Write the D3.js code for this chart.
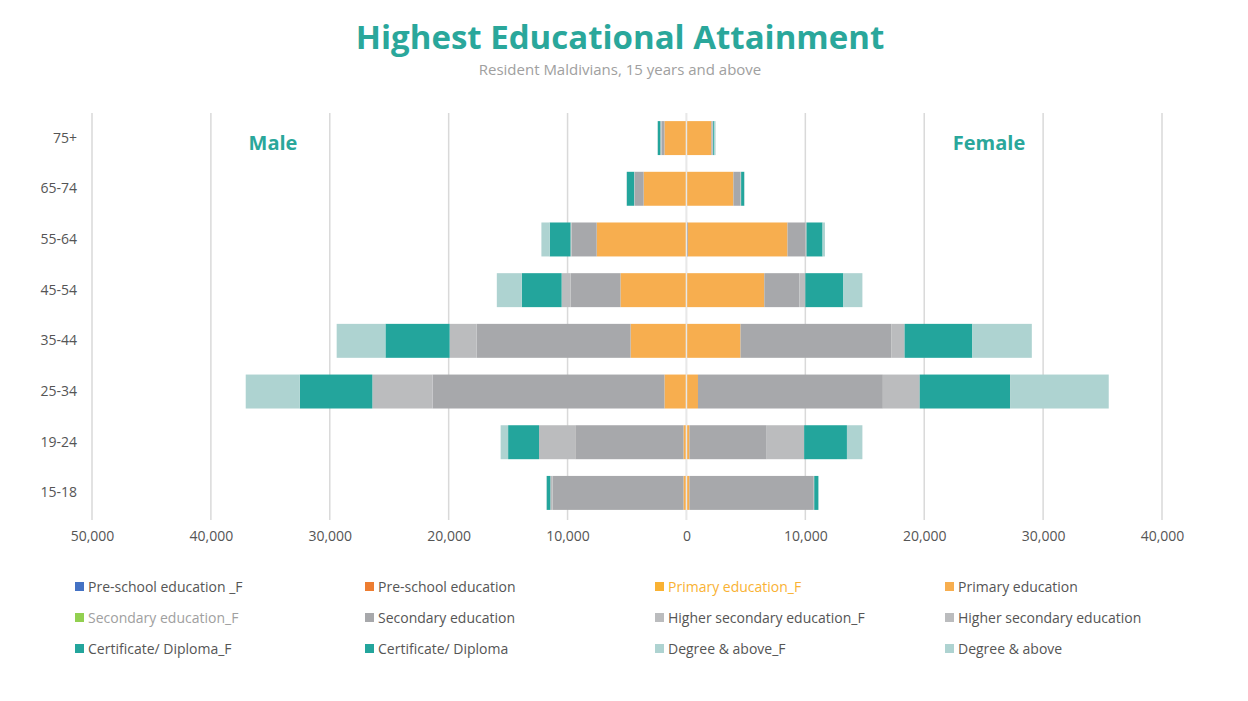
<!DOCTYPE html>
<html><head><meta charset="utf-8">
<script src="https://cdn.jsdelivr.net/npm/d3@7"></script>
<style>body{margin:0;background:#fff;font-family:"Open Sans","Noto Sans",sans-serif;}</style>
</head><body><svg id="c" width="1248" height="701"></svg>
<script>
const categories = ["75+","65-74","55-64","45-54","35-44","25-34","19-24","15-18"];
const levels = ["Pre-school","Primary","Secondary","Higher secondary","Certificate","Degree"];
// male values per level (order: categories)
const malePre = [0,0,0,0,0,0,0,0];
const malePrimary = [1850,3600,7550,5550,4700,1850,250,250];
const maleSecondary = [250,750,2100,4200,12950,19500,9100,11000];
const maleHigher = [100,50,100,750,2270,5070,3050,200];
const maleCert = [200,600,1750,3350,5400,6100,2600,300];
const maleDegree = [50,50,700,2100,4100,4550,630,50];
// female values
const femPre = [0,0,100,0,0,0,0,0];
const femPrimary = [2100,3950,8400,6550,4550,970,250,250];
const femSecondary = [100,600,1500,2950,12700,15550,6500,10400];
const femHigher = [50,50,100,500,1100,3100,3150,100];
const femCert = [100,250,1350,3200,5700,7600,3600,350];
const femDegree = [100,50,200,1600,5000,8300,1300,0];
const tickValues = [-50000,-40000,-30000,-20000,-10000,0,10000,20000,30000,40000];
const colors = ["#4472c4","#f7ae4f","#a7a8ab","#bbbcbe","#23a59c","#aed3d1"];
const legendItems = [
 ["Pre-school education _F","#4472c4","#555"],["Pre-school education","#ed7d31","#555"],
 ["Primary education_F","#f9b233","#f9b233"],["Primary education","#f7ae4f","#555"],
 ["Secondary education_F","#92d050","#a0a0a0"],["Secondary education","#a7a8ab","#555"],
 ["Higher secondary education_F","#bbbcbe","#555"],["Higher secondary education","#bbbcbe","#555"],
 ["Certificate/ Diploma_F","#23a59c","#555"],["Certificate/ Diploma","#23a59c","#555"],
 ["Degree & above_F","#aed3d1","#555"],["Degree & above","#aed3d1","#555"]];

const male = [malePre,malePrimary,maleSecondary,maleHigher,maleCert,maleDegree];
const fem = [femPre,femPrimary,femSecondary,femHigher,femCert,femDegree];
const svg = d3.select("#c");
const x = d3.scaleLinear().domain([-50000,40000]).range([92,1162]);
const y = d3.scaleBand().domain(categories).range([113,518]).paddingInner(0.33).paddingOuter(0.16);

svg.append("text").attr("x",620).attr("y",49).attr("text-anchor","middle").attr("font-size",33).attr("font-weight","bold").attr("fill","#2aa79b").text("Highest Educational Attainment");
svg.append("text").attr("x",620).attr("y",75).attr("text-anchor","middle").attr("font-size",15).attr("fill","#a0a0a0").text("Resident Maldivians, 15 years and above");

svg.append("g").selectAll("line").data(tickValues).join("line")
 .attr("x1",d=>x(d)).attr("x2",d=>x(d)).attr("y1",113).attr("y2",520).attr("stroke","#d9d9d9").attr("stroke-width",1.5);

const ax = svg.append("g").attr("transform","translate(0,528)")
 .call(d3.axisBottom(x).tickValues(tickValues).tickSize(0).tickFormat(d=>d3.format(",")(Math.abs(d))));
ax.select(".domain").remove();
ax.selectAll("text").attr("font-size",14).attr("fill","#555").attr("font-family","'Open Sans',sans-serif");

const ay = svg.append("g").attr("transform","translate(80,0)").call(d3.axisLeft(y).tickSize(0));
ay.select(".domain").remove();
ay.selectAll("text").attr("font-size",14).attr("fill","#555").attr("font-family","'Open Sans',sans-serif");

categories.forEach((c,i)=>{
  let m=0,f=0;
  levels.forEach((l,j)=>{
    const mv=male[j][i], fv=fem[j][i];
    if(mv>0) svg.append("rect").attr("x",x(-(m+mv))).attr("width",x(-m)-x(-(m+mv))).attr("y",y(c)).attr("height",y.bandwidth()).attr("fill",colors[j]);
    m+=mv;
    if(fv>0) svg.append("rect").attr("x",x(f)).attr("width",x(f+fv)-x(f)).attr("y",y(c)).attr("height",y.bandwidth()).attr("fill",colors[j]);
    f+=fv;
  });
});
svg.append("line").attr("x1",x(0)).attr("x2",x(0)).attr("y1",113).attr("y2",520).attr("stroke","#e8e8e8").attr("stroke-width",1.5);

svg.append("text").attr("x",273).attr("y",150).attr("text-anchor","middle").attr("font-size",20).attr("font-weight","bold").attr("fill","#2aa79b").text("Male");
svg.append("text").attr("x",989).attr("y",150).attr("text-anchor","middle").attr("font-size",20).attr("font-weight","bold").attr("fill","#2aa79b").text("Female");

const lg = svg.append("g").selectAll("g").data(legendItems).join("g")
 .attr("transform",(d,i)=>`translate(${75+(i%4)*290},${587+Math.floor(i/4)*31})`);
lg.append("rect").attr("x",0).attr("y",-5).attr("width",9).attr("height",9).attr("fill",d=>d[1]);
lg.append("text").attr("x",13).attr("y",5).attr("font-size",14).attr("fill",d=>d[2]).text(d=>d[0]);
</script></body></html>
